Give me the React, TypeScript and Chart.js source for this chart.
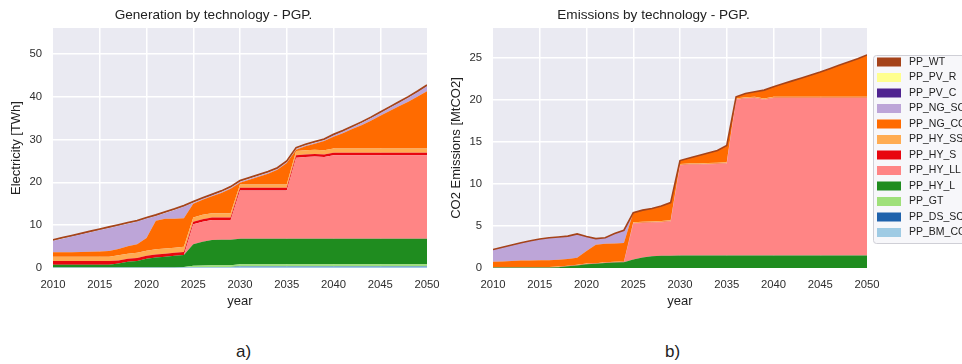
import React, { useEffect, useRef } from "react";
import { Chart, registerables } from "chart.js";

Chart.register(...registerables);

const FONT = '"Liberation Sans", Arial, Helvetica, sans-serif';

// Model years
const years = [
  2010, 2011, 2012, 2013, 2014, 2015, 2016, 2017, 2018, 2019,
  2020, 2021, 2022, 2023, 2024, 2025, 2026, 2027, 2028, 2029,
  2030, 2031, 2032, 2033, 2034, 2035, 2036, 2037, 2038, 2039,
  2040, 2041, 2042, 2043, 2044, 2045, 2046, 2047, 2048, 2049,
  2050,
];

// Technologies, bottom of the stack first
const technologies = [
  "PP_BM_CC", "PP_DS_SC", "PP_GT", "PP_HY_L", "PP_HY_LL", "PP_HY_S",
  "PP_HY_SS", "PP_NG_CC", "PP_NG_SC", "PP_PV_C", "PP_PV_R", "PP_WT",
];
const techColors = [
  "#9fcbe4", "#1f62ac", "#9fe07a", "#1f8c1f", "#ff8585", "#e8060f",
  "#ffac52", "#ff6b00", "#bda5d8", "#4f2390", "#ffff8f", "#a5431a",
];

// Generation [TWh]
const genBM = [
  0.05, 0.05, 0.05, 0.05, 0.05, 0.05, 0.05, 0.05, 0.05, 0.05,
  0.05, 0.05, 0.05, 0.05, 0.1, 0.2, 0.2, 0.2, 0.2, 0.2,
  0.3, 0.3, 0.3, 0.3, 0.3, 0.3, 0.3, 0.3, 0.3, 0.3,
  0.3, 0.3, 0.3, 0.3, 0.3, 0.3, 0.3, 0.3, 0.3, 0.3,
  0.3,
];
const genDS = [
  0.05, 0.05, 0.05, 0.05, 0.05, 0.05, 0.05, 0.05, 0.05, 0.05,
  0.05, 0.05, 0.05, 0.05, 0.05, 0.05, 0.05, 0.05, 0.05, 0.05,
  0.1, 0.1, 0.1, 0.1, 0.1, 0.1, 0.1, 0.1, 0.1, 0.1,
  0.1, 0.1, 0.1, 0.1, 0.1, 0.1, 0.1, 0.1, 0.1, 0.1,
  0.1,
];
const genGT = [
  0.05, 0.05, 0.05, 0.05, 0.05, 0.05, 0.05, 0.05, 0.05, 0.05,
  0.05, 0.05, 0.05, 0.05, 0.1, 0.3, 0.35, 0.4, 0.4, 0.4,
  0.5, 0.5, 0.5, 0.5, 0.5, 0.5, 0.5, 0.5, 0.5, 0.5,
  0.5, 0.5, 0.5, 0.5, 0.5, 0.5, 0.5, 0.5, 0.5, 0.5,
  0.5,
];
const genHYL = [
  0.6, 0.6, 0.6, 0.6, 0.6, 0.6, 0.6, 0.9, 1.3, 1.5,
  2.0, 2.3, 2.5, 2.7, 2.8, 5.0, 5.5, 5.9, 5.95, 5.95,
  5.9, 5.9, 5.9, 5.9, 5.9, 5.9, 5.9, 5.9, 5.9, 5.9,
  5.9, 5.9, 5.9, 5.9, 5.9, 5.9, 5.9, 5.9, 5.9, 5.9,
  5.9,
];
const genHYLL = [
  0, 0, 0, 0, 0, 0, 0, 0, 0, 0,
  0, 0, 0, 0, 0, 4.65, 4.7, 4.65, 4.6, 4.6,
  11.3, 11.3, 11.3, 11.3, 11.3, 11.3, 18.9, 19.1, 19.2, 19.1,
  19.5, 19.5, 19.5, 19.5, 19.5, 19.5, 19.5, 19.5, 19.5, 19.5,
  19.5,
];
const genHYS = [
  0.9, 0.9, 0.9, 0.9, 0.9, 0.9, 0.9, 0.7, 0.7, 0.7,
  0.7, 0.7, 0.7, 0.7, 0.7, 0.6, 0.6, 0.6, 0.6, 0.6,
  0.6, 0.6, 0.6, 0.6, 0.6, 0.6, 0.6, 0.6, 0.6, 0.6,
  0.6, 0.6, 0.6, 0.6, 0.6, 0.6, 0.6, 0.6, 0.6, 0.6,
  0.6,
];
const genHYSS = [
  1.0, 1.0, 1.0, 1.0, 1.0, 1.0, 1.0, 1.2, 1.2, 1.2,
  1.2, 1.2, 1.2, 1.2, 1.2, 1.0, 1.0, 1.0, 1.0, 1.0,
  0.8, 0.8, 0.8, 0.8, 0.8, 0.8, 1.0, 1.0, 1.0, 1.0,
  1.0, 1.0, 1.0, 1.0, 1.0, 1.0, 1.0, 1.0, 1.0, 1.0,
  1.0,
];
const genNGCC = [
  1.0, 1.0, 1.05, 1.1, 1.15, 1.2, 1.3, 1.5, 1.7, 2.0,
  2.95, 6.65, 6.95, 6.75, 6.65, 3.22, 3.52, 3.92, 4.72, 5.72,
  0.42, 1.12, 1.82, 2.52, 3.42, 5.02, 0.32, 0.92, 1.42, 2.12,
  2.72, 3.57, 4.52, 5.42, 6.47, 7.62, 8.72, 9.82, 10.92, 12.12,
  13.32,
];
const genNGSC = [
  2.67, 3.17, 3.62, 4.07, 4.52, 4.97, 5.37, 5.37, 5.27, 5.27,
  4.52, 1.12, 1.32, 2.02, 2.72, 0.2, 0.2, 0.2, 0.2, 0.2,
  0.2, 0.2, 0.2, 0.2, 0.2, 0.2, 0.2, 0.2, 0.2, 0.2,
  0.3, 0.35, 0.4, 0.5, 0.55, 0.6, 0.7, 0.8, 0.9, 1.0,
  1.2,
];
const genPVC = [
  0.03, 0.03, 0.03, 0.03, 0.03, 0.03, 0.03, 0.03, 0.03, 0.03,
  0.03, 0.03, 0.03, 0.03, 0.03, 0.03, 0.03, 0.03, 0.03, 0.03,
  0.03, 0.03, 0.03, 0.03, 0.03, 0.03, 0.03, 0.03, 0.03, 0.03,
  0.03, 0.03, 0.03, 0.03, 0.03, 0.03, 0.03, 0.03, 0.03, 0.03,
  0.03,
];
const genPVR = [
  0.05, 0.05, 0.05, 0.05, 0.05, 0.05, 0.05, 0.05, 0.05, 0.05,
  0.05, 0.05, 0.05, 0.05, 0.05, 0.05, 0.05, 0.05, 0.05, 0.05,
  0.05, 0.05, 0.05, 0.05, 0.05, 0.05, 0.05, 0.05, 0.05, 0.05,
  0.05, 0.05, 0.05, 0.05, 0.05, 0.05, 0.05, 0.05, 0.05, 0.05,
  0.05,
];
const genWT = [
  0.2, 0.2, 0.2, 0.2, 0.2, 0.2, 0.2, 0.2, 0.2, 0.2,
  0.2, 0.2, 0.2, 0.2, 0.2, 0.2, 0.2, 0.2, 0.2, 0.2,
  0.2, 0.2, 0.2, 0.2, 0.2, 0.2, 0.2, 0.2, 0.2, 0.2,
  0.2, 0.2, 0.2, 0.2, 0.2, 0.2, 0.2, 0.2, 0.2, 0.2,
  0.2,
];

// Emissions [MtCO2]
const emNone = [
  0, 0, 0, 0, 0, 0, 0, 0, 0, 0,
  0, 0, 0, 0, 0, 0, 0, 0, 0, 0,
  0, 0, 0, 0, 0, 0, 0, 0, 0, 0,
  0, 0, 0, 0, 0, 0, 0, 0, 0, 0,
  0,
];
const emHYL = [
  0.05, 0.05, 0.05, 0.05, 0.05, 0.05, 0.05, 0.1, 0.2, 0.3,
  0.45, 0.5, 0.6, 0.65, 0.7, 1.0, 1.25, 1.4, 1.45, 1.45,
  1.5, 1.5, 1.5, 1.5, 1.5, 1.5, 1.5, 1.5, 1.5, 1.5,
  1.5, 1.5, 1.5, 1.5, 1.5, 1.5, 1.5, 1.5, 1.5, 1.5,
  1.5,
];
const emHYLL = [
  0, 0, 0, 0, 0, 0, 0, 0, 0, 0,
  0, 0, 0, 0, 0, 4.3, 4.1, 4.0, 4.0, 4.1,
  10.75, 10.8, 10.8, 10.85, 10.9, 10.95, 18.55, 18.7, 18.75, 18.55,
  18.75, 18.75, 18.75, 18.75, 18.75, 18.75, 18.75, 18.75, 18.75, 18.75,
  18.75,
];
const emHYS = [
  0.03, 0.03, 0.03, 0.03, 0.03, 0.03, 0.03, 0.03, 0.03, 0.03,
  0.03, 0.03, 0.03, 0.03, 0.03, 0.03, 0.03, 0.03, 0.03, 0.03,
  0.03, 0.03, 0.03, 0.03, 0.03, 0.03, 0.03, 0.03, 0.03, 0.03,
  0.03, 0.03, 0.03, 0.03, 0.03, 0.03, 0.03, 0.03, 0.03, 0.03,
  0.03,
];
const emHYSS = [
  0.05, 0.05, 0.05, 0.05, 0.05, 0.05, 0.05, 0.05, 0.05, 0.05,
  0.05, 0.05, 0.05, 0.05, 0.05, 0.12, 0.12, 0.12, 0.12, 0.12,
  0.12, 0.12, 0.12, 0.12, 0.12, 0.12, 0.12, 0.12, 0.12, 0.12,
  0.12, 0.12, 0.12, 0.12, 0.12, 0.12, 0.12, 0.12, 0.12, 0.12,
  0.12,
];
const emNGCC = [
  0.6, 0.65, 0.7, 0.75, 0.75, 0.8, 0.8, 0.8, 0.8, 0.85,
  1.5, 2.2, 2.2, 2.2, 2.2, 1.15, 1.4, 1.55, 1.8, 2.1,
  0.4, 0.65, 0.95, 1.2, 1.45, 2.0, 0.2, 0.45, 0.6, 1.0,
  1.2, 1.55, 1.9, 2.25, 2.6, 2.95, 3.35, 3.75, 4.15, 4.55,
  5.0,
];
const emNGSC = [
  1.47, 1.69, 1.9, 2.12, 2.37, 2.52, 2.67, 2.72, 2.72, 2.83,
  1.72, 0.72, 0.72, 1.17, 1.52, 0, 0, 0, 0, 0,
  0, 0, 0, 0, 0, 0, 0, 0, 0, 0,
  0, 0, 0, 0, 0, 0, 0, 0, 0, 0,
  0,
];

const generationSeries = [
  genBM, genDS, genGT, genHYL, genHYLL, genHYS,
  genHYSS, genNGCC, genNGSC, genPVC, genPVR, genWT,
];
const emissionSeries = [
  emNone, emNone, emNone, emHYL, emHYLL, emHYS,
  emHYSS, emNGCC, emNGSC, emNone, emNone, emNone,
];

const PLOT_BG = "#eaeaf2";
const CANVAS_H = 310;

const plotBackground = {
  id: "plotBackground",
  beforeDraw(chart: any) {
    const { ctx, chartArea: a } = chart;
    ctx.save();
    ctx.fillStyle = PLOT_BG;
    ctx.fillRect(a.left, a.top, a.right - a.left, a.bottom - a.top);
    ctx.restore();
  },
};

// Legend box to the right of the plot, top layer of the stack first
function makeSideLegend(left: number, top: number, height: number) {
  return {
    id: "sideLegend",
    afterDraw(chart: any) {
      const { ctx } = chart;
      const ds = chart.data.datasets;
      ctx.save();
      ctx.beginPath();
      ctx.roundRect(left + 0.5, top + 0.5, 160, height, 3);
      ctx.fillStyle = "#f7f7fa";
      ctx.fill();
      ctx.strokeStyle = "#cfcfd6";
      ctx.lineWidth = 1;
      ctx.stroke();
      ctx.font = `10.5px ${FONT}`;
      ctx.textBaseline = "middle";
      ctx.textAlign = "left";
      const rowH = 15.5;
      for (let k = 0; k < ds.length; k++) {
        const d = ds[ds.length - 1 - k];
        const cy = top + 7 + k * rowH;
        ctx.fillStyle = d.backgroundColor;
        ctx.fillRect(left + 4, cy - 4.5, 24, 9);
        ctx.fillStyle = "#222222";
        ctx.fillText(d.label, left + 36, cy);
      }
      ctx.restore();
    },
  };
}

type PanelProps = {
  title: string;
  yTitle: string;
  series: number[][];
  yMax: number;
  yStep: number;
  width: number;
  padRight: number;
  legend: boolean;
};

function StackPanel({ title, yTitle, series, yMax, yStep, width, padRight, legend }: PanelProps) {
  const ref = useRef<HTMLCanvasElement>(null);

  useEffect(() => {
    const datasets = technologies.map((name, i) => {
      const isTop = i === technologies.length - 1;
      return {
        label: name,
        data: years.map((yr, j) => ({ x: yr, y: series[i][j] })),
        backgroundColor: techColors[i],
        borderColor: isTop ? techColors[i] : "rgba(0,0,0,0)",
        borderWidth: isTop ? 1.6 : 1,
        fill: i === 0 ? "origin" : "-1",
        pointRadius: 0,
        tension: 0,
      };
    });

    const tickFont = { family: FONT, size: 11.3 };
    const titleFont = { family: FONT, size: 13 };
    const gridColor = (c: any) =>
      c.tick && (c.tick.value === 2010 || c.tick.value === 2050) ? "rgba(0,0,0,0)" : "#ffffff";

    const plugins: any[] = [plotBackground];
    if (legend) plugins.push(makeSideLegend(433, 55, 188));

    const chart = new Chart(ref.current as HTMLCanvasElement, {
      type: "line",
      data: { datasets },
      plugins,
      options: {
        responsive: false,
        animation: false,
        devicePixelRatio: 1,
        layout: { padding: { left: 0, right: padRight, top: 0, bottom: 0 } },
        plugins: {
          legend: { display: false },
          tooltip: { enabled: false },
          filler: { drawTime: "beforeDatasetsDraw" },
          title: {
            display: true,
            text: title,
            color: "#222222",
            font: { family: FONT, size: 13.6, weight: "normal" },
            padding: { top: 7.5, bottom: 4.2 },
          },
        },
        scales: {
          x: {
            type: "linear",
            min: 2010,
            max: 2050,
            ticks: {
              stepSize: 5,
              color: "#2e2e2e",
              font: tickFont,
              padding: 10,
              maxRotation: 0,
              callback: (v: any) => String(v),
            },
            grid: { color: gridColor, lineWidth: 1.5, drawTicks: false },
            border: { display: false },
            title: {
              display: true,
              text: "year",
              color: "#222222",
              font: titleFont,
              padding: { top: 0, bottom: 1 },
            },
            afterFit: (s: any) => {
              s.height = CANVAS_H - 268;
              s.paddingLeft = 0;
              s.paddingRight = 0;
            },
          },
          y: {
            type: "linear",
            stacked: true,
            min: 0,
            max: yMax,
            ticks: {
              stepSize: yStep,
              includeBounds: false,
              color: "#2e2e2e",
              font: tickFont,
              padding: 11,
            },
            grid: { color: "#ffffff", lineWidth: 1.5, drawTicks: false },
            border: { display: false },
            title: {
              display: true,
              text: yTitle,
              color: "#222222",
              font: titleFont,
              padding: { top: 9, bottom: 0 },
            },
            afterFit: (s: any) => {
              s.width = 53;
              s.paddingTop = 0;
              s.paddingBottom = 0;
            },
          },
        },
      } as any,
    });
    return () => chart.destroy();
  }, []);

  return (
    <canvas
      ref={ref}
      width={width}
      height={CANVAS_H}
      style={{ display: "block", width: `${width}px`, height: `${CANVAS_H}px` }}
    />
  );
}

const panelLabel: React.CSSProperties = {
  position: "absolute",
  top: 341,
  fontFamily: FONT,
  fontSize: 17,
  color: "#222222",
  lineHeight: "22px",
};

export default function App() {
  return (
    <div
      style={{
        position: "fixed",
        left: 0,
        top: 0,
        width: 962,
        height: 364,
        overflow: "hidden",
        background: "#ffffff",
      }}
    >
      <div style={{ position: "absolute", left: 0, top: 0 }}>
        <StackPanel
          title="Generation by technology - PGP."
          yTitle="Electricity [TWh]"
          series={generationSeries}
          yMax={56}
          yStep={10}
          width={440}
          padRight={13}
          legend={false}
        />
      </div>
      <div style={{ position: "absolute", left: 440, top: 0 }}>
        <StackPanel
          title="Emissions by technology - PGP."
          yTitle="CO2 Emissions [MtCO2]"
          series={emissionSeries}
          yMax={28.6}
          yStep={5}
          width={522}
          padRight={95}
          legend={true}
        />
      </div>
      <div style={{ ...panelLabel, left: 236 }}>a)</div>
      <div style={{ ...panelLabel, left: 665 }}>b)</div>
    </div>
  );
}
